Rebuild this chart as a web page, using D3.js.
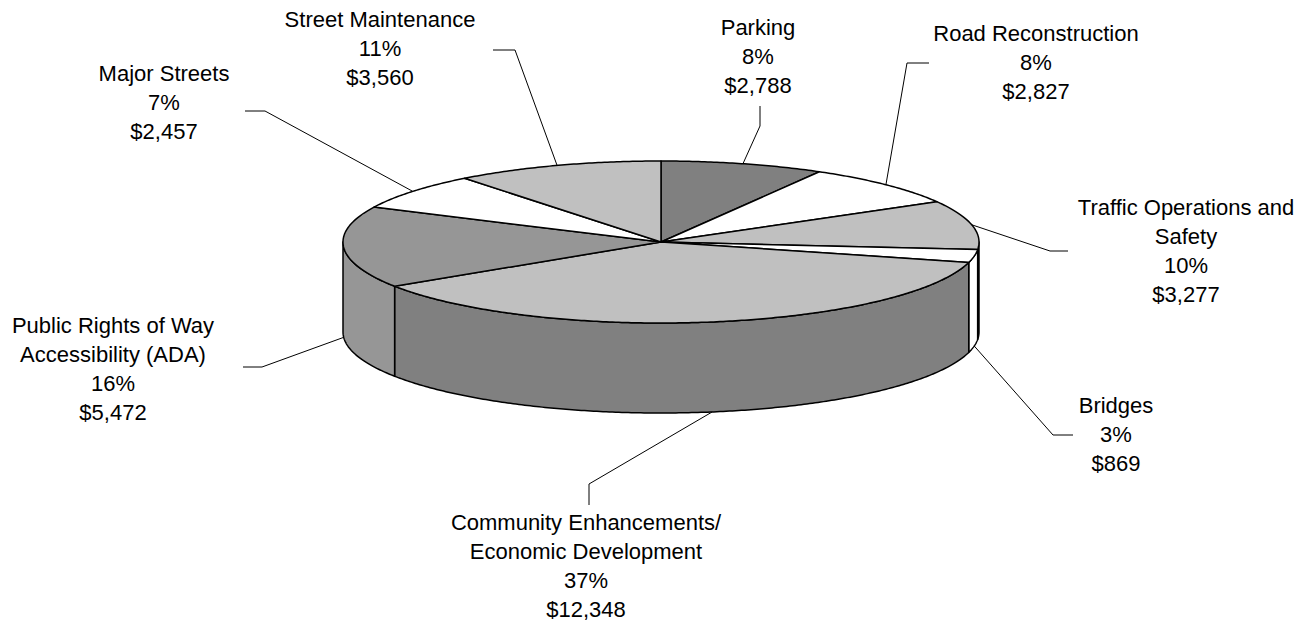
<!DOCTYPE html>
<html>
<head>
<meta charset="utf-8">
<script src="https://cdn.jsdelivr.net/npm/d3@7"></script>
<style>
  body { margin: 0; background: #fff; }
  svg { display: block; }
  text { font-family: "Liberation Sans", Arial, sans-serif; font-size: 22px; fill: #000; }
</style>
</head>
<body>
<div id="chart"></div>
<script>
// slices, clockwise from 12 o'clock
var categories = ["Parking", "Road Reconstruction", "Traffic Operations and Safety", "Bridges",
  "Community Enhancements/ Economic Development", "Public Rights of Way Accessibility (ADA)",
  "Major Streets", "Street Maintenance"];
var values = [2788, 2827, 3277, 869, 12348, 5472, 2457, 3560];
// how each category name wraps in its label
var nameLines = [["Parking"], ["Road Reconstruction"], ["Traffic Operations and", "Safety"], ["Bridges"],
  ["Community Enhancements/", "Economic Development"], ["Public Rights of Way", "Accessibility (ADA)"],
  ["Major Streets"], ["Street Maintenance"]];
var topColors = ["#808080", "#ffffff", "#c0c0c0", "#ffffff", "#c0c0c0", "#969696", "#ffffff", "#c0c0c0"];
var sideColors = ["#606060", "#ffffff", "#a0a0a0", "#ffffff", "#808080", "#969696", "#ffffff", "#a0a0a0"];

var width = 1301, height = 624;
var cx = 661, cy = 242, rx = 318, ry = 81, depth = 90;
var lineGap = 29;

// label layout: centre x, first baseline y, then leader end + knee offsets
var labelPos = [[758, 35], [1036, 41], [1186, 215], [1116, 413], [586, 530], [113, 333], [164, 81], [380, 27]];
var leaderOff = [[2, 71, 2, 91], [-107, 22, -129, 22], [-118, 36, -136, 36], [-43, 22, -63, 22],
  [3, -25, 3, -46], [130, 34, 149, 34], [81, 30, 101, 30], [113, 23, 135, 23]];

var svg = d3.select("#chart").append("svg")
  .attr("width", width)
  .attr("height", height);

var pie = d3.pie().sort(null).value(function (d) { return d; });
var arcs = pie(values);
var total = d3.sum(values);
var pct = d3.format(".0%");
var money = d3.format("$,");

function px(a) { return cx + rx * Math.sin(a); }
function py(a) { return cy - ry * Math.cos(a); }

function arcPoints(a0, a1, dy) {
  var pts = [];
  var n = Math.max(2, Math.ceil((a1 - a0) / 0.01));
  for (var i = 0; i <= n; i++) {
    var t = a0 + (a1 - a0) * i / n;
    pts.push([px(t), py(t) + dy]);
  }
  return pts;
}

var line = d3.line();

// side walls, only the front half (pi/2 .. 3pi/2) shows
arcs.forEach(function (d, i) {
  var a0 = Math.max(d.startAngle, Math.PI / 2);
  var a1 = Math.min(d.endAngle, Math.PI * 1.5);
  if (a1 <= a0) return;
  var top = arcPoints(a0, a1, 0);
  var bottom = arcPoints(a0, a1, depth).reverse();
  svg.append("path")
    .attr("d", line(top.concat(bottom)) + "Z")
    .attr("fill", sideColors[i])
    .attr("stroke", "#000")
    .attr("stroke-width", 1.5)
    .attr("stroke-linejoin", "round");
});

// top faces
arcs.forEach(function (d, i) {
  var pts = [[cx, cy]].concat(arcPoints(d.startAngle, d.endAngle, 0));
  svg.append("path")
    .attr("d", line(pts) + "Z")
    .attr("fill", topColors[i])
    .attr("stroke", "#000")
    .attr("stroke-width", 1.5)
    .attr("stroke-linejoin", "round");
});

// leader lines + labels
arcs.forEach(function (d, i) {
  var mid = (d.startAngle + d.endAngle) / 2;
  var front = Math.cos(mid) < 0;
  var ax = px(mid), ay = py(mid) + (front ? depth : 0);
  var lp = labelPos[i], lo = leaderOff[i];
  var endP = [lp[0] + lo[0], lp[1] + lo[1]];
  var knee = [lp[0] + lo[2], lp[1] + lo[3]];
  svg.append("path")
    .attr("d", line([endP, knee, [ax, ay]]))
    .attr("fill", "none")
    .attr("stroke", "#000")
    .attr("stroke-width", 1);

  var lines = nameLines[i].concat([pct(values[i] / total), money(values[i])]);
  var t = svg.append("text")
    .attr("text-anchor", "middle");
  lines.forEach(function (s, k) {
    t.append("tspan")
      .attr("x", lp[0])
      .attr("y", lp[1] + k * lineGap)
      .text(s);
  });
});
</script>
</body>
</html>
